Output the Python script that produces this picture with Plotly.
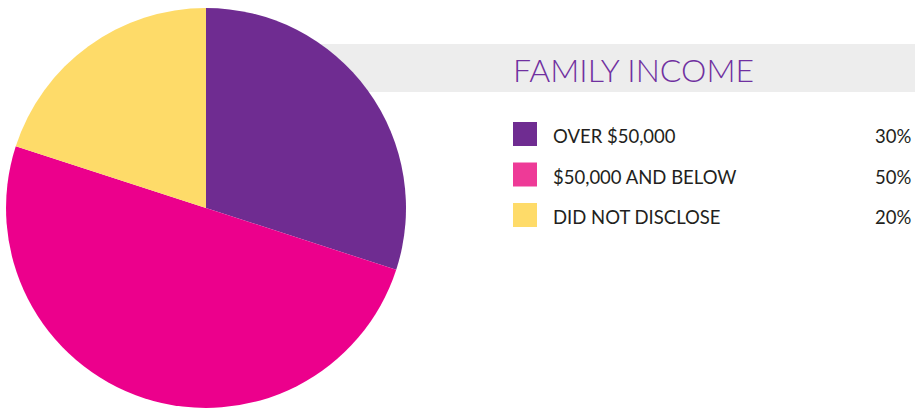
import plotly.graph_objects as go

# %%
# Data
labels = ["OVER $50,000", "$50,000 AND BELOW", "DID NOT DISCLOSE"]
values = [30, 50, 20]
pie_colors = ["#6f2c91", "#ec008c", "#fedb69"]
legend_colors = ["#6f2c91", "#ee3a97", "#fedb69"]
title = "FAMILY INCOME"

W, H = 915, 408

def px_x(x):
    return x / W

def px_y(y):
    return 1 - y / H

# %%
fig = go.Figure()
fig.add_trace(go.Pie(
    labels=labels,
    values=values,
    sort=False,
    direction="clockwise",
    rotation=0,
    marker=dict(colors=pie_colors, line=dict(width=0)),
    textinfo="none",
    hoverinfo="label+percent",
    domain=dict(x=[px_x(6), px_x(406)], y=[0, px_y(8)]),
    showlegend=False,
))

# grey title band behind the pie
fig.add_shape(type="rect", xref="paper", yref="paper", layer="below",
              x0=px_x(206), x1=1, y0=px_y(92), y1=px_y(44),
              fillcolor="#ededed", line=dict(width=0))

fig.add_annotation(x=px_x(511), y=px_y(69), xref="paper", yref="paper",
                   text=title, showarrow=False, xanchor="left", yanchor="middle",
                   font=dict(family="Lato", size=32, color="#7030a0", weight=300))

# legend rows
for i, (lab, val, col) in enumerate(zip(labels, values, legend_colors)):
    yc = 134 + i * 40.5
    fig.add_shape(type="rect", xref="paper", yref="paper",
                  x0=px_x(513), x1=px_x(537), y0=px_y(yc + 12), y1=px_y(yc - 12),
                  fillcolor=col, line=dict(width=0))
    fig.add_annotation(x=px_x(551), y=px_y(yc + 2), xref="paper", yref="paper",
                       text=lab, showarrow=False, xanchor="left", yanchor="middle",
                       font=dict(family="Lato", size=18.5, color="#231f20"))
    fig.add_annotation(x=px_x(913), y=px_y(yc + 2), xref="paper", yref="paper",
                       text=f"{val}%", showarrow=False, xanchor="right", yanchor="middle",
                       font=dict(family="Lato", size=18.5, color="#231f20"))

fig.update_layout(width=W, height=H, margin=dict(l=0, r=0, t=0, b=0),
                  paper_bgcolor="white", plot_bgcolor="white")
fig.write_html("out.html", config={"displayModeBar": False},
               post_script="document.body.style.margin='0px';")
